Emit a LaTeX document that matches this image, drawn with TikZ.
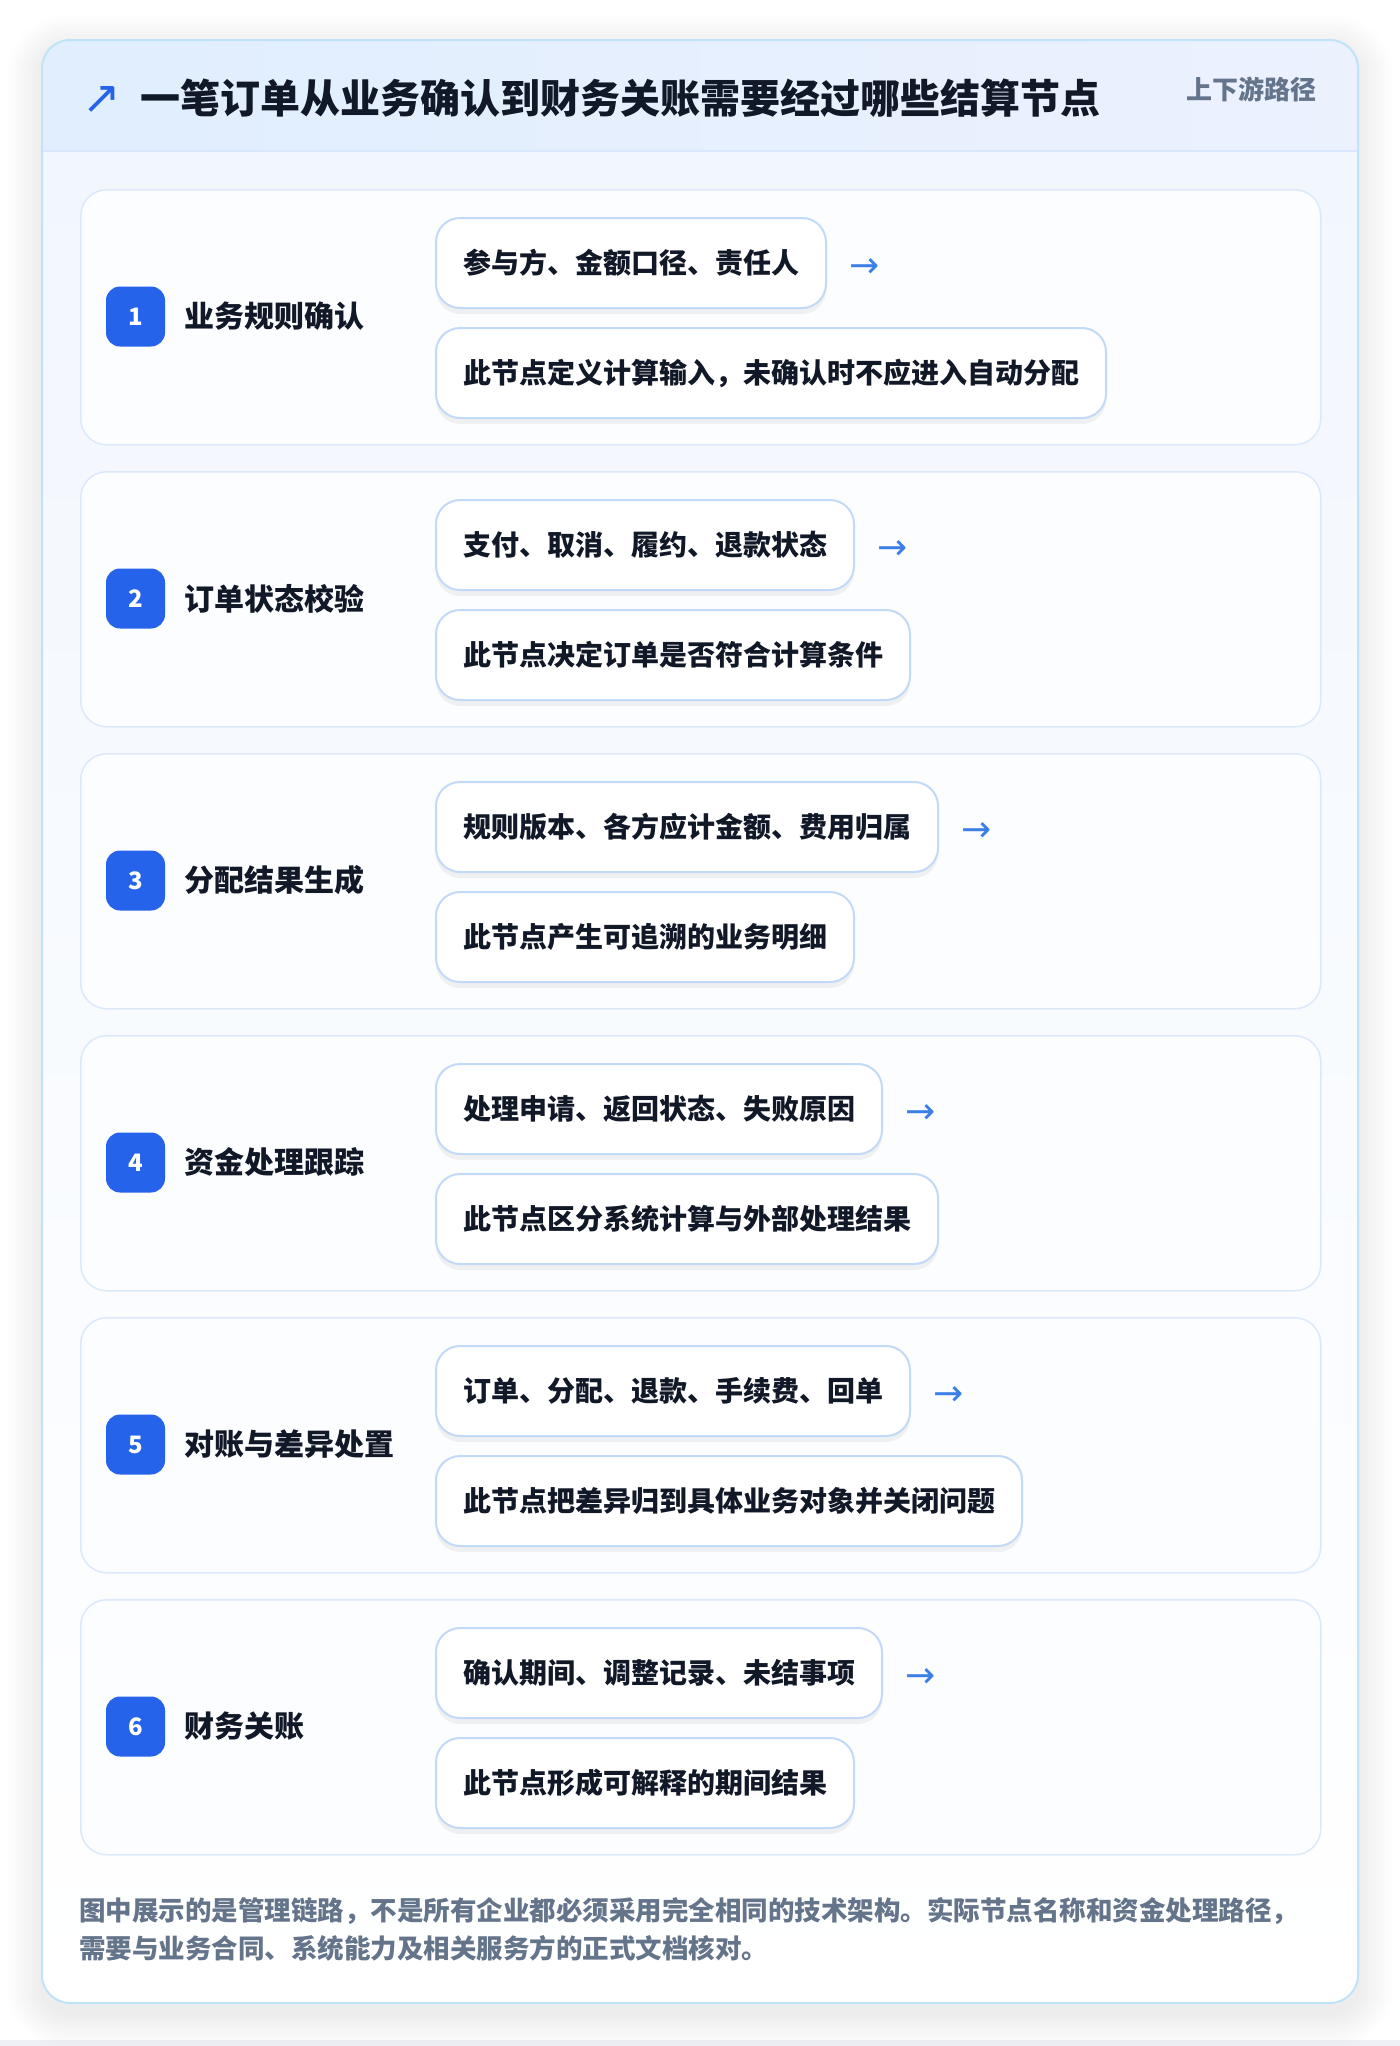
\documentclass[tikz,border=0pt]{standalone}
\usepackage{fontspec}
\setmainfont{Noto Sans CJK SC}
\newfontfamily\symfont{DejaVu Sans}
\usetikzlibrary{positioning, shadows, calc}

\definecolor{cardline}{HTML}{BFE3F8}
\definecolor{headline}{HTML}{D8E7FB}
\definecolor{headleft}{HTML}{E0EEFE}
\definecolor{headright}{HTML}{ECF1FE}
\definecolor{bodytop}{HTML}{F2F7FE}
\definecolor{rowline}{HTML}{DCE9FA}
\definecolor{rowfill}{HTML}{FCFDFF}
\definecolor{pillline}{HTML}{C2D9F7}
\definecolor{badgeblue}{HTML}{2563EB}
\definecolor{arrowblue}{HTML}{3B7FE6}
\definecolor{inkdark}{HTML}{111827}
\definecolor{inkgray}{HTML}{64748B}
\definecolor{pagestrip}{HTML}{EEF0F5}

\tikzset{
  rowbox/.style={draw=rowline, line width=1.5pt, fill=rowfill, rounded corners=26pt,
    minimum width=1240pt, minimum height=255pt, anchor=north west},
  badge/.style={fill=badgeblue, rounded corners=14pt, minimum width=59pt, minimum height=60pt,
    text=white, font=\fontsize{24}{24}\selectfont\bfseries, inner sep=0pt},
  steplabel/.style={text=inkdark, font=\fontsize{30}{30}\selectfont\bfseries, inner sep=0pt},
  pill/.style={draw=pillline, line width=2pt, fill=white, rounded corners=24pt,
    minimum height=90pt, inner xsep=27pt, anchor=north west, text=inkdark,
    font=\fontsize{28}{28}\selectfont\bfseries,
    drop shadow={shadow xshift=0pt, shadow yshift=-6pt, opacity=0.05, fill=black}},
  nextarrow/.style={text=arrowblue, font=\symfont\fontsize{36}{36}\selectfont, inner sep=0pt},
}

\begin{document}
\begin{tikzpicture}[x=1pt, y=-1pt]
    \useasboundingbox (0,0) rectangle (1400,2046);
    \fill[white] (0,0) rectangle (1400,2046);
    \fill[pagestrip] (0,2040) rectangle (1400,2046);

    % soft shadow round the card
    \foreach \k in {1,...,18} {
        \pgfmathsetmacro\rr{28+2*\k}
        \fill[black, opacity=0.005, rounded corners=\rr pt]
            (42-2*\k, 50-2*\k) rectangle (1358+2*\k, 2013+2*\k);
    }

    % card: header and body
    \begin{scope}
        \clip[rounded corners=28pt] (42,40) rectangle (1358,2003);
        \shade[left color=headleft, right color=headright] (42,40) rectangle (1358,151);
        \shade[top color=bodytop, bottom color=white] (42,151) rectangle (1358,2003);
    \end{scope}
    \draw[headline, line width=1.5pt] (43,151) -- (1357,151);
    \draw[cardline, line width=2pt, rounded corners=28pt] (42,40) rectangle (1358,2003);

    \node[anchor=west, inner sep=0pt, text=inkdark, font=\fontsize{40}{40}\selectfont\bfseries]
        (title) at (140,98) {一笔订单从业务确认到财务关账需要经过哪些结算节点};
    \node[inner sep=0pt, text=badgeblue, font=\symfont\fontsize{46}{46}\selectfont]
        (icon) at (102,100) {↗};
    \node[anchor=east, inner sep=0pt, text=inkgray, font=\fontsize{26}{26}\selectfont\bfseries]
        (tag) at (1317,89) {上下游路径};

    % the six settlement nodes
    \foreach \i/\name/\facts/\note in {
        1/业务规则确认/参与方、金额口径、责任人/此节点定义计算输入，未确认时不应进入自动分配,
        2/订单状态校验/支付、取消、履约、退款状态/此节点决定订单是否符合计算条件,
        3/分配结果生成/规则版本、各方应计金额、费用归属/此节点产生可追溯的业务明细,
        4/资金处理跟踪/处理申请、返回状态、失败原因/此节点区分系统计算与外部处理结果,
        5/对账与差异处置/订单、分配、退款、手续费、回单/此节点把差异归到具体业务对象并关闭问题,
        6/财务关账/确认期间、调整记录、未结事项/此节点形成可解释的期间结果} {
        \pgfmathsetmacro\rowtop{189+(\i-1)*282}
        \node[rowbox] (row\i) at (80,\rowtop) {};
        \node[badge] (badge\i) at (135.5,\rowtop+127.5) {\i};
        \node[steplabel, right=19pt of badge\i] (label\i) {\name};
        \node[pill] (facts\i) at (435,\rowtop+28) {\facts};
        \node[pill] (note\i) at (435,\rowtop+138) {\note};
        \node[nextarrow, right=22pt of facts\i, yshift=-5pt] (arrow\i) {→};
    }

    \node[anchor=west, inner sep=0pt, align=left, text=inkgray,
        font=\fontsize{26.5}{38}\selectfont\bfseries] (remark) at (79,1929)
        {图中展示的是管理链路，不是所有企业都必须采用完全相同的技术架构。实际节点名称和资金处理路径，\\
         需要与业务合同、系统能力及相关服务方的正式文档核对。};
\end{tikzpicture}
\end{document}
